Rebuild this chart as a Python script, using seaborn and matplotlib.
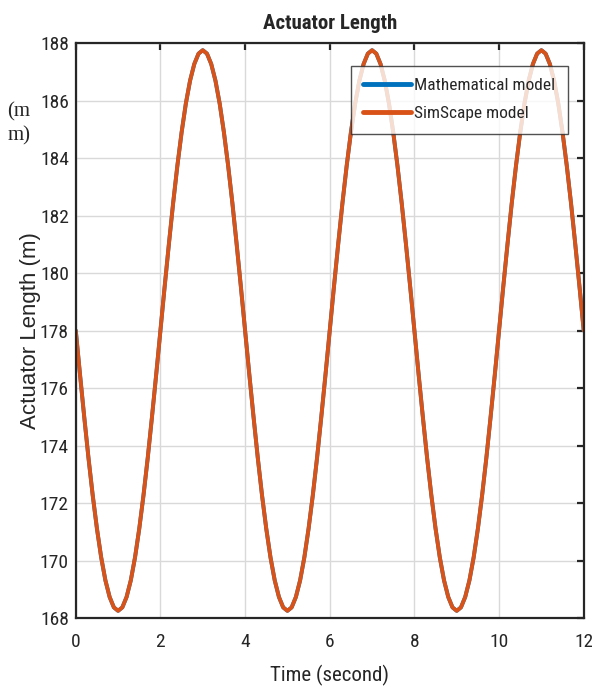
import numpy as np
import pandas as pd
import matplotlib
matplotlib.use("Agg")
import matplotlib.pyplot as plt
import seaborn as sns

# time samples (s), read every 0.1 s
time_s = [round(0.1 * i, 1) for i in range(121)]

# one period, 0 .. 3.9 s
period = [178.00, 176.47, 174.99, 173.57, 172.27, 171.11, 170.11, 169.31, 168.73, 168.37,
          168.25, 168.37, 168.73, 169.31, 170.11, 171.11, 172.27, 173.57, 174.99, 176.47,
          178.00, 179.53, 181.01, 182.43, 183.73, 184.89, 185.89, 186.69, 187.27, 187.63,
          187.75, 187.63, 187.27, 186.69, 185.89, 184.89, 183.73, 182.43, 181.01, 179.53]
math_model = period * 3 + [178.00]
simscape_model = period * 3 + [178.00]

df = pd.DataFrame({
    "time": time_s * 2,
    "length": math_model + simscape_model,
    "model": ["Mathematical model"] * len(time_s) + ["SimScape model"] * len(time_s),
})

sns.set_style("white")
narrow = ["Liberation Sans Narrow", "Arial Narrow", "Roboto Condensed", "Liberation Sans", "DejaVu Sans"]
plt.rcParams["font.family"] = narrow

fig = plt.figure(figsize=(5.92, 6.87), dpi=100)
ax = fig.add_axes([0.128, 0.1004, 0.858, 0.837])

sns.lineplot(data=df, x="time", y="length", hue="model",
             palette=["#0072BD", "#D95319"], linewidth=2.8, ax=ax)

ax.set_xlim(0, 12)
ax.set_ylim(168, 188)
ax.set_xticks(range(0, 13, 2))
ax.set_yticks(range(168, 189, 2))
ax.grid(True, color="#d9d9d9", linewidth=1.0)
ax.set_axisbelow(True)
for s in ax.spines.values():
    s.set_color("#262626")
    s.set_linewidth(1.6)
ax.tick_params(direction="in", length=5, width=1.6, color="#262626",
               labelsize=14, labelcolor="#262626", top=True, right=True)
ax.tick_params(axis="x", pad=11)
ax.tick_params(axis="y", pad=5)

ax.set_title("Actuator Length", fontsize=15, fontweight="bold", pad=10)
ax.set_xlabel("Time (second)", fontsize=15, color="#262626", labelpad=10)
ax.set_ylabel("Actuator Length (m)", fontsize=16, color="#262626",
              family=["Liberation Sans", "DejaVu Sans"], labelpad=-1)

fig.text(0.012, 0.82, "(m\nm)", fontsize=15, family=["Liberation Serif", "DejaVu Serif"],
         linespacing=1.3, va="center", ha="left")

leg = ax.legend(loc="upper right", bbox_to_anchor=(0.9685, 0.96), fontsize=12.5,
                frameon=True, fancybox=False, handlelength=2.76, borderpad=0.7,
                labelspacing=0.75, handletextpad=0.2, borderaxespad=0)
leg.get_frame().set_edgecolor("#262626")
leg.get_frame().set_linewidth(1.0)
for h in leg.get_lines():
    h.set_linewidth(3.5)

fig.savefig("out.png", dpi=100)
